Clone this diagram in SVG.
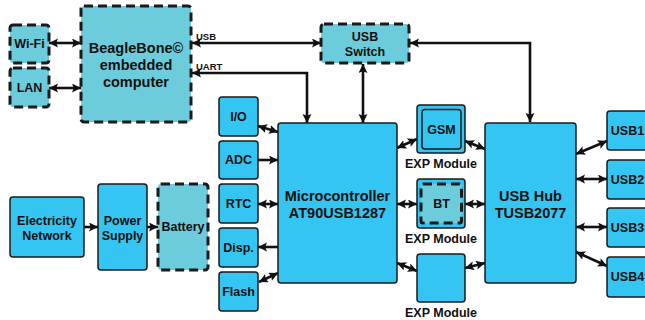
<svg xmlns="http://www.w3.org/2000/svg" width="645" height="320" viewBox="0 0 645 320">
<defs>
<marker id="ah" markerUnits="userSpaceOnUse" markerWidth="11" markerHeight="11" refX="9" refY="4.5" orient="auto-start-reverse">
<path d="M0,0 L9,4.5 L0,9 L1.8,4.5 z" fill="#111"/>
</marker>
<style>
.b{fill:#35C5F2;stroke:#1a1a1a;stroke-width:1.5}
.d{fill:#6DCCDB;stroke:#1a1a1a;stroke-width:3;stroke-dasharray:9 5}
.t{font-family:"Liberation Sans",Arial,sans-serif;font-weight:bold;font-size:12.5px;fill:#111;text-anchor:middle;dominant-baseline:central}
.L{font-size:14.5px}
.s{font-size:9.5px;text-anchor:start}
.c{fill:none;stroke:#111;stroke-width:2.6}
.c2{marker-start:url(#ah);marker-end:url(#ah)}
.c1{marker-end:url(#ah)}
</style>
</defs>
<rect width="645" height="320" fill="#fff"/>
<g id="connectors">
<line class="c c2" x1="49" y1="43" x2="81" y2="43"/>
<line class="c c2" x1="49" y1="88" x2="81" y2="88"/>
<line class="c c2" x1="192" y1="43" x2="321" y2="43"/>
<path class="c c2" d="M192,73 H307 V123"/>
<line class="c c2" x1="363" y1="64" x2="363" y2="123"/>
<path class="c c2" d="M410,43 H530 V122"/>
<line class="c c2" x1="258" y1="126" x2="278" y2="132"/>
<line class="c c1" x1="258" y1="160" x2="278" y2="160"/>
<line class="c c2" x1="258" y1="204" x2="278" y2="204"/>
<line class="c c1" x1="278" y1="247" x2="258" y2="247"/>
<line class="c c2" x1="259" y1="282" x2="278" y2="273"/>
<line class="c c1" x1="84" y1="227" x2="98" y2="227"/>
<line class="c c1" x1="147" y1="227" x2="158" y2="227"/>
<line class="c c2" x1="397" y1="148" x2="417" y2="139"/>
<line class="c c2" x1="397" y1="204" x2="417" y2="204"/>
<line class="c c2" x1="397" y1="263" x2="417" y2="271"/>
<line class="c c2" x1="465" y1="141" x2="485" y2="149"/>
<line class="c c2" x1="465" y1="204" x2="485" y2="204"/>
<line class="c c2" x1="465" y1="268" x2="485" y2="263"/>
<line class="c c2" x1="576" y1="154" x2="607" y2="141"/>
<line class="c c2" x1="576" y1="179" x2="607" y2="179"/>
<line class="c c2" x1="576" y1="227" x2="607" y2="227"/>
<line class="c c2" x1="576" y1="252" x2="607" y2="266"/>
<text class="t s" x="196" y="36.5">USB</text>
<text class="t s" x="196" y="66">UART</text>
</g>
<g id="wifi"><rect class="d" x="10" y="25" width="39" height="38" rx="3"/><text class="t" x="29.5" y="44">Wi-Fi</text></g>
<g id="lan"><rect class="d" x="10" y="68" width="39" height="39" rx="3"/><text class="t" x="29.5" y="88">LAN</text></g>
<g id="beaglebone"><rect class="d" x="81" y="6" width="110" height="116" rx="3"/>
<text class="t L" x="136" y="48">BeagleBone©</text><text class="t L" x="136" y="65">embedded</text><text class="t L" x="136" y="82">computer</text></g>
<g id="usbswitch"><rect class="d" x="321" y="24" width="88" height="39" rx="3"/><text class="t" x="365" y="37">USB</text><text class="t" x="365" y="52">Switch</text></g>
<g id="io"><rect class="b" x="219" y="97" width="39" height="39" rx="3"/><text class="t" x="238.5" y="116.5">I/O</text></g>
<g id="adc"><rect class="b" x="219" y="141" width="39" height="38" rx="3"/><text class="t" x="238.5" y="160">ADC</text></g>
<g id="rtc"><rect class="b" x="219" y="184" width="39" height="39" rx="3"/><text class="t" x="238.5" y="204">RTC</text></g>
<g id="disp"><rect class="b" x="219" y="228" width="39" height="39" rx="3"/><text class="t" x="238.5" y="248">Disp.</text></g>
<g id="flash"><rect class="b" x="219" y="272" width="39" height="39" rx="3"/><text class="t" x="238.5" y="292">Flash</text></g>
<g id="electricity"><rect class="b" x="10" y="197" width="74" height="60" rx="3"/><text class="t" x="47" y="220.5">Electricity</text><text class="t" x="47" y="235.5">Network</text></g>
<g id="powersupply"><rect class="b" x="98" y="184" width="49" height="86" rx="3"/><text class="t" x="122.5" y="220.5">Power</text><text class="t" x="122.5" y="236">Supply</text></g>
<g id="battery"><rect class="d" x="158" y="184" width="50" height="86" rx="3"/><text class="t" x="183" y="227">Battery</text></g>
<g id="micro"><rect class="b" x="278" y="123" width="119" height="160" rx="3"/><text class="t L" x="337.5" y="196">Microcontroller</text><text class="t L" x="337.5" y="213">AT90USB1287</text></g>
<g id="gsm"><rect class="b" x="417" y="105" width="48" height="48" rx="3"/><rect class="b" x="422" y="109.5" width="39" height="39.5" rx="3"/><text class="t" x="441.5" y="130">GSM</text><text class="t" x="441" y="164">EXP Module</text></g>
<g id="bt"><rect class="b" x="417" y="179" width="48" height="49" rx="3"/><rect class="d" x="421" y="184" width="40.5" height="39" rx="2"/><text class="t" x="441.5" y="204">BT</text><text class="t" x="441" y="239">EXP Module</text></g>
<g id="exp3"><rect class="b" x="417" y="254" width="48" height="48" rx="3"/><text class="t" x="441" y="313">EXP Module</text></g>
<g id="usbhub"><rect class="b" x="485" y="123" width="91" height="160" rx="3"/><text class="t L" x="530.5" y="195.5">USB Hub</text><text class="t L" x="530.5" y="213">TUSB2077</text></g>
<g id="usb1"><rect class="b" x="607" y="111" width="45" height="39" rx="3"/><text class="t" x="627.5" y="131">USB1</text></g>
<g id="usb2"><rect class="b" x="607" y="160" width="45" height="39" rx="3"/><text class="t" x="627.5" y="180">USB2</text></g>
<g id="usb3"><rect class="b" x="607" y="208" width="45" height="39" rx="3"/><text class="t" x="627.5" y="228">USB3</text></g>
<g id="usb4"><rect class="b" x="607" y="257" width="45" height="40" rx="3"/><text class="t" x="627.5" y="277">USB4</text></g>
</svg>
